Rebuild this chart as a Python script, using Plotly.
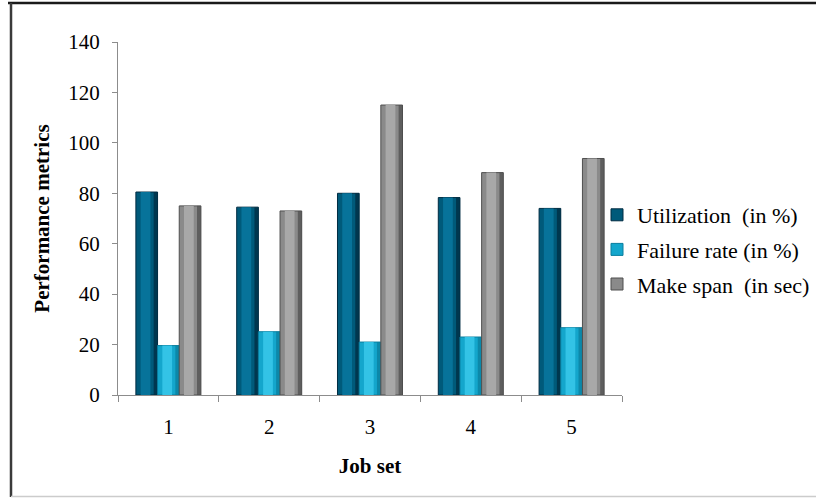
import plotly.graph_objects as go

job_sets = ["1", "2", "3", "4", "5"]
utilization = [80.5, 74.5, 80, 78.3, 74]
failure_rate = [19.6, 25.1, 21, 23, 26.7]
make_span = [75, 73, 115, 88.2, 93.8]

series_names = ["Utilization  (in %)", "Failure rate (in %)", "Make span  (in sec)"]
y_ticks = [0, 20, 40, 60, 80, 100, 120, 140]

W, H = 816, 498
ML, MR, MT, MB = 118, 194, 42, 103
PW, PH = W - ML - MR, H - MT - MB

def px_to_paper_x(px):
    return (px - ML) / PW

def px_to_paper_y(py):
    return (H - MB - py) / PH

FONT = "Times New Roman, Liberation Serif, DejaVu Serif, serif"

# colours: (edge, body, highlight)
styles = [
    ("#002c42", "#005a7a", "#07739a"),
    ("#0a7e9e", "#14a6cc", "#33c3e6"),
    ("#4f4f4f", "#8a8a8a", "#a8a8a8"),
]

bar_w = 0.215
offsets = [-1.5 * bar_w, -0.5 * bar_w, 0.5 * bar_w]

fig = go.Figure()
data = [utilization, failure_rate, make_span]
for i, (vals, name) in enumerate(zip(data, series_names)):
    edge, body, hi = styles[i]
    fig.add_trace(go.Bar(
        x=job_sets, y=vals, name=name, width=bar_w, offset=offsets[i],
        marker=dict(color=body, line=dict(color=edge, width=1)),
        legendgroup=f"g{i}", showlegend=True,
    ))
    # inner highlight band for a cylinder-like look
    fig.add_trace(go.Bar(
        x=job_sets, y=vals, name=name, width=bar_w * 0.45,
        offset=offsets[i] + bar_w * 0.22,
        marker=dict(color=hi, line=dict(width=0)),
        legendgroup=f"g{i}", showlegend=False, hoverinfo="skip",
    ))
    # darker right edge
    fig.add_trace(go.Bar(
        x=job_sets, y=vals, name=name, width=bar_w * 0.18,
        offset=offsets[i] + bar_w * 0.82,
        marker=dict(color=edge, line=dict(width=0), opacity=0.75),
        legendgroup=f"g{i}", showlegend=False, hoverinfo="skip",
    ))

# border frame around the chart
shapes = [
    dict(type="line", xref="paper", yref="paper",
         x0=px_to_paper_x(8), x1=px_to_paper_x(W),
         y0=px_to_paper_y(3), y1=px_to_paper_y(3),
         line=dict(color="#1a1a1a", width=2.5)),
    dict(type="line", xref="paper", yref="paper",
         x0=px_to_paper_x(11), x1=px_to_paper_x(11),
         y0=px_to_paper_y(3), y1=px_to_paper_y(497),
         line=dict(color="#3a3a3a", width=2.5)),
    dict(type="line", xref="paper", yref="paper",
         x0=px_to_paper_x(11), x1=px_to_paper_x(W),
         y0=px_to_paper_y(496.5), y1=px_to_paper_y(496.5),
         line=dict(color="#cccccc", width=1.5)),
]

fig.update_layout(
    width=W, height=H,
    margin=dict(l=ML, r=MR, t=MT, b=MB, autoexpand=False),
    barmode="overlay",
    plot_bgcolor="white", paper_bgcolor="white",
    font=dict(family=FONT, size=21, color="black"),
    shapes=shapes,
    legend=dict(
        x=px_to_paper_x(597), y=px_to_paper_y(194), xanchor="left", yanchor="top",
        font=dict(family=FONT, size=22, color="black"),
        tracegroupgap=3, bgcolor="rgba(0,0,0,0)",
    ),
    xaxis=dict(
        type="category", range=[-0.5, 4.5],
        showline=True, linecolor="#8c8c8c", linewidth=1,
        ticks="outside", tickson="boundaries", ticklen=6, tickcolor="#8c8c8c",
        showgrid=False, zeroline=False,
        tickfont=dict(family=FONT, size=21),
        ticklabelstandoff=13,
        title=dict(text="<b>Job set</b>", font=dict(family=FONT, size=21), standoff=20),
    ),
    yaxis=dict(
        range=[0, 140], tickvals=y_ticks,
        showline=True, linecolor="#8c8c8c", linewidth=1,
        ticks="outside", ticklen=5, tickcolor="#8c8c8c",
        showgrid=False, zeroline=False,
        tickfont=dict(family=FONT, size=21),
        ticklabelstandoff=8,
        title=dict(text="<b>Performance metrics</b>", font=dict(family=FONT, size=21), standoff=12),
    ),
)

fig.write_html("out.html")
